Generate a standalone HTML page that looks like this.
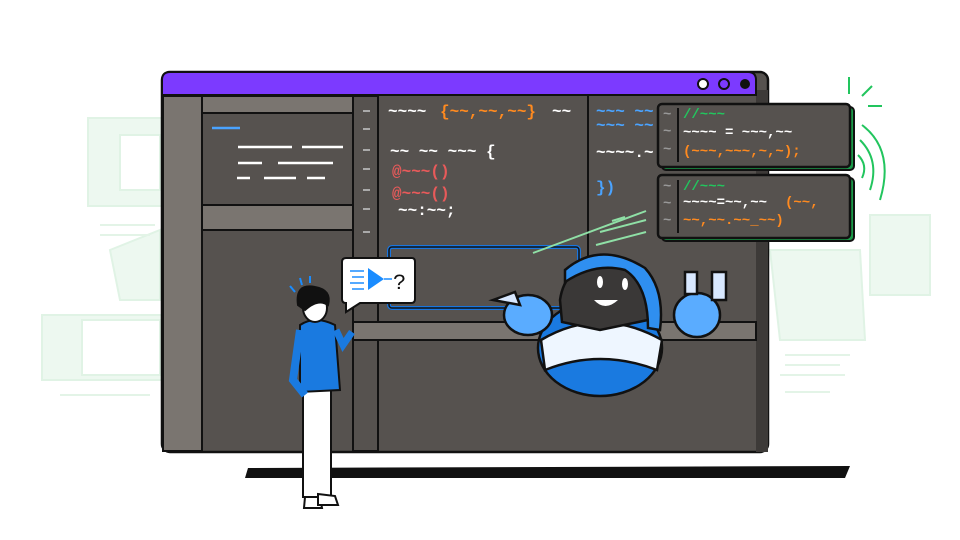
<!DOCTYPE html>
<html><head><meta charset="utf-8"><style>
html,body{margin:0;padding:0;background:#fff;}
svg{display:block;}
text{font-family:"Liberation Mono",monospace;}
</style></head><body>
<svg width="960" height="540" viewBox="0 0 960 540" xmlns="http://www.w3.org/2000/svg">
<!-- faint green background shapes -->
<g fill="#edf8f0" stroke="#e0f3e5" stroke-width="2">
<rect x="88" y="118" width="75" height="88"/>
<rect x="120" y="135" width="40" height="55" fill="#fff"/>
<rect x="42" y="315" width="120" height="65"/>
<rect x="82" y="320" width="78" height="55" fill="#fff"/>
<path d="M110 250 L160 230 L160 300 L120 300 Z"/>
<path d="M770 250 L860 250 L865 340 L780 340 Z"/>
<rect x="870" y="215" width="60" height="80"/>
</g>
<g stroke="#e3f4e7" stroke-width="2">
<line x1="785" y1="355" x2="850" y2="355"/><line x1="785" y1="365" x2="840" y2="365"/><line x1="780" y1="375" x2="845" y2="375"/><line x1="785" y1="392" x2="830" y2="392"/>
<line x1="100" y1="225" x2="155" y2="225"/><line x1="100" y1="235" x2="150" y2="235"/>
<line x1="60" y1="395" x2="150" y2="395"/>
</g>
<!-- ground shadow -->
<path d="M248 468 L850 466 L845 478 L245 478 Z" fill="#111"/>
<!-- window -->
<rect x="162" y="72" width="606" height="380" rx="8" fill="#56524f" stroke="#111" stroke-width="2.5"/>
<rect x="756" y="90" width="12" height="362" fill="#3d3a38"/>
<path d="M162 95 L162 80 Q162 72 170 72 L748 72 Q756 72 756 80 L756 95 Z" fill="#7c3aff" stroke="#111" stroke-width="2"/>
<circle cx="703" cy="84" r="5" fill="#fff" stroke="#111" stroke-width="2"/>
<circle cx="724" cy="84" r="5" fill="#7c3aff" stroke="#111" stroke-width="2"/>
<circle cx="745" cy="84" r="5" fill="#111"/>
<rect x="163" y="96" width="39" height="355" fill="#7a7570" stroke="#111" stroke-width="2"/>
<rect x="202" y="96" width="151" height="17" fill="#7a7570" stroke="#111" stroke-width="2"/>
<rect x="202" y="113" width="151" height="92" fill="#56524f" stroke="#111" stroke-width="2"/>
<rect x="202" y="205" width="151" height="25" fill="#7a7570" stroke="#111" stroke-width="2"/>
<rect x="353" y="96" width="25" height="355" fill="#56524f" stroke="#111" stroke-width="2"/>
<line x1="588" y1="96" x2="588" y2="322" stroke="#111" stroke-width="2"/>
<rect x="353" y="322" width="403" height="18" fill="#7a7570" stroke="#111" stroke-width="2"/>
<!-- gutter marks -->
<g stroke="#aaa" stroke-width="2">
<line x1="363" y1="111" x2="370" y2="111"/><line x1="363" y1="129" x2="370" y2="129"/><line x1="363" y1="150" x2="370" y2="150"/><line x1="363" y1="169" x2="370" y2="169"/><line x1="363" y1="190" x2="370" y2="190"/><line x1="363" y1="209" x2="370" y2="209"/><line x1="363" y1="232" x2="370" y2="232"/>
</g>
<!-- left panel lines -->
<g stroke="#fff" stroke-width="2.5">
<line x1="212" y1="128" x2="240" y2="128" stroke="#4aa3ff"/>
<line x1="238" y1="147" x2="292" y2="147"/><line x1="302" y1="147" x2="343" y2="147"/>
<line x1="238" y1="163" x2="262" y2="163"/><line x1="278" y1="163" x2="333" y2="163"/>
<line x1="237" y1="178" x2="250" y2="178"/><line x1="264" y1="178" x2="296" y2="178"/><line x1="307" y1="178" x2="325" y2="178"/>
</g>
<!-- code -->
<g font-size="16" font-weight="bold">
<text x="388" y="116" fill="#fff">~~~~</text><text x="440" y="116" fill="#ff8a1f">{~~,~~,~~}</text><text x="552" y="116" fill="#fff">~~</text>
<text x="390" y="156" fill="#fff">~~ ~~ ~~~ {</text>
<text x="392" y="176" fill="#e85a5a">@~~~()</text>
<text x="392" y="198" fill="#e85a5a">@~~~()</text>
<text x="398" y="215" fill="#fff">~~:~~;</text>
<text x="596" y="116" fill="#4aa3ff">~~~ ~~</text>
<text x="596" y="130" fill="#4aa3ff">~~~ ~~</text>
<text x="596" y="157" fill="#fff">~~~~.~</text>
<text x="596" y="192" fill="#4aa3ff">})</text>
</g>
<!-- blue box -->
<rect x="389" y="247" width="190" height="61" rx="3" fill="#56524f" stroke="#1976e0" stroke-width="4"/>
<rect x="389" y="247" width="190" height="61" rx="3" fill="none" stroke="#111" stroke-width="1.5"/>
<!-- speed lines -->
<g stroke="#8fe0a6" stroke-width="2">
<line x1="533" y1="253" x2="646" y2="211"/><line x1="600" y1="232" x2="646" y2="220"/><line x1="596" y1="245" x2="646" y2="232"/><line x1="612" y1="221" x2="625" y2="217"/>
</g>
<!-- popups -->
<g>
<rect x="662" y="107" width="192" height="63" rx="4" fill="#1a9a48" stroke="#111" stroke-width="2"/>
<rect x="658" y="104" width="192" height="63" rx="4" fill="#56524f" stroke="#111" stroke-width="2.5"/>
<line x1="678" y1="108" x2="678" y2="162" stroke="#111" stroke-width="2"/>
<rect x="662" y="178" width="192" height="63" rx="4" fill="#1a9a48" stroke="#111" stroke-width="2"/>
<rect x="658" y="175" width="192" height="63" rx="4" fill="#56524f" stroke="#111" stroke-width="2.5"/>
<line x1="678" y1="180" x2="678" y2="233" stroke="#111" stroke-width="2"/>
<g font-size="14" font-weight="bold">
<text x="663" y="118" fill="#999">~</text><text x="663" y="135" fill="#999">~</text><text x="663" y="153" fill="#999">~</text>
<text x="683" y="118" fill="#22c55e">//~~~</text>
<text x="683" y="136" fill="#fff">~~~~ = ~~~,~~</text>
<text x="683" y="155" fill="#ff8a1f">(~~~,~~~,~,~);</text>
<text x="663" y="190" fill="#999">~</text><text x="663" y="207" fill="#999">~</text><text x="663" y="224" fill="#999">~</text>
<text x="683" y="190" fill="#22c55e">//~~~</text>
<text x="683" y="206" fill="#fff">~~~~=~~,~~</text><text x="785" y="206" fill="#ff8a1f">(~~,</text>
<text x="683" y="224" fill="#ff8a1f">~~,~~.~~_~~)</text>
</g>
</g>
<!-- green signal -->
<g stroke="#22c55e" stroke-width="2" fill="none">
<line x1="849" y1="77" x2="849" y2="94"/><line x1="872" y1="86" x2="862" y2="96"/><line x1="868" y1="106" x2="882" y2="106"/>
<path d="M862 125 Q895 150 880 200"/><path d="M860 140 Q880 160 870 190"/><path d="M858 155 Q868 165 862 178"/>
</g>
<!-- robot -->
<g stroke="#111" stroke-width="2.5">
<ellipse cx="600" cy="348" rx="62" ry="48" fill="#1a7ae0"/>
<path d="M541 340 Q600 305 662 340 L657 370 Q600 348 545 370 Z" fill="#eef6ff"/>
<path d="M560 300 Q565 265 600 265 L630 270 Q650 285 648 320 L600 330 L562 322 Z" fill="#3a3837"/>
<path d="M565 270 Q600 240 645 268 Q665 290 660 330 L648 328 Q648 285 625 270 Q595 262 565 282 Z" fill="#2f8ff0"/>
<ellipse cx="528" cy="315" rx="24" ry="20" fill="#5aacff"/>
<path d="M493 300 L515 292 L520 305 Z" fill="#d8e8ff"/>
<ellipse cx="697" cy="315" rx="23" ry="22" fill="#5aacff"/>
<rect x="685" y="272" width="12" height="22" fill="#d8e8ff"/>
<rect x="712" y="272" width="14" height="28" fill="#d8e8ff"/>
</g>
<g fill="#fff"><ellipse cx="600" cy="282" rx="3" ry="6"/><ellipse cx="625" cy="284" rx="3" ry="6"/><path d="M594 300 Q605 312 618 300 Z"/></g>
<!-- speech bubble -->
<path d="M346 258 L412 258 Q415 258 415 262 L415 299 Q415 303 411 303 L360 303 L346 312 L346 303 Q342 303 342 299 L342 262 Q342 258 346 258 Z" fill="#fff" stroke="#111" stroke-width="2"/>
<path d="M368 268 L384 279 L368 290 Z" fill="#1a8cff"/>
<g stroke="#1a8cff" stroke-width="1.5"><line x1="350" y1="271" x2="364" y2="271"/><line x1="352" y1="277" x2="364" y2="277"/><line x1="350" y1="283" x2="364" y2="283"/><line x1="352" y1="289" x2="364" y2="289"/><line x1="384" y1="279" x2="392" y2="279"/></g>
<text x="393" y="289" font-size="22" font-family="Liberation Sans, sans-serif" fill="#111">?</text>
<!-- person -->
<g stroke="#111" stroke-width="2">
<rect x="303" y="385" width="28" height="112" fill="#fff"/>
<path d="M300 325 Q315 315 335 325 L340 390 L300 392 Z" fill="#1a7ae0"/>
<path d="M300 330 L293 380 L305 395" fill="none" stroke="#1a7ae0" stroke-width="8"/>
<path d="M336 330 L343 345 L352 332" fill="none" stroke="#1a7ae0" stroke-width="7"/>
<ellipse cx="315" cy="308" rx="12" ry="14" fill="#fff"/>
<path d="M298 305 Q295 283 315 287 Q332 290 328 305 Q318 298 305 310 Z" fill="#111"/>
<path d="M305 497 L320 497 L322 508 L304 508 Z" fill="#fff"/>
<path d="M318 494 L335 496 L338 505 L318 505 Z" fill="#fff"/>
</g>
<g stroke="#1a8cff" stroke-width="2"><line x1="290" y1="286" x2="295" y2="292"/><line x1="300" y1="278" x2="302" y2="285"/><line x1="310" y1="276" x2="310" y2="283"/></g>
</svg>
</body></html>
